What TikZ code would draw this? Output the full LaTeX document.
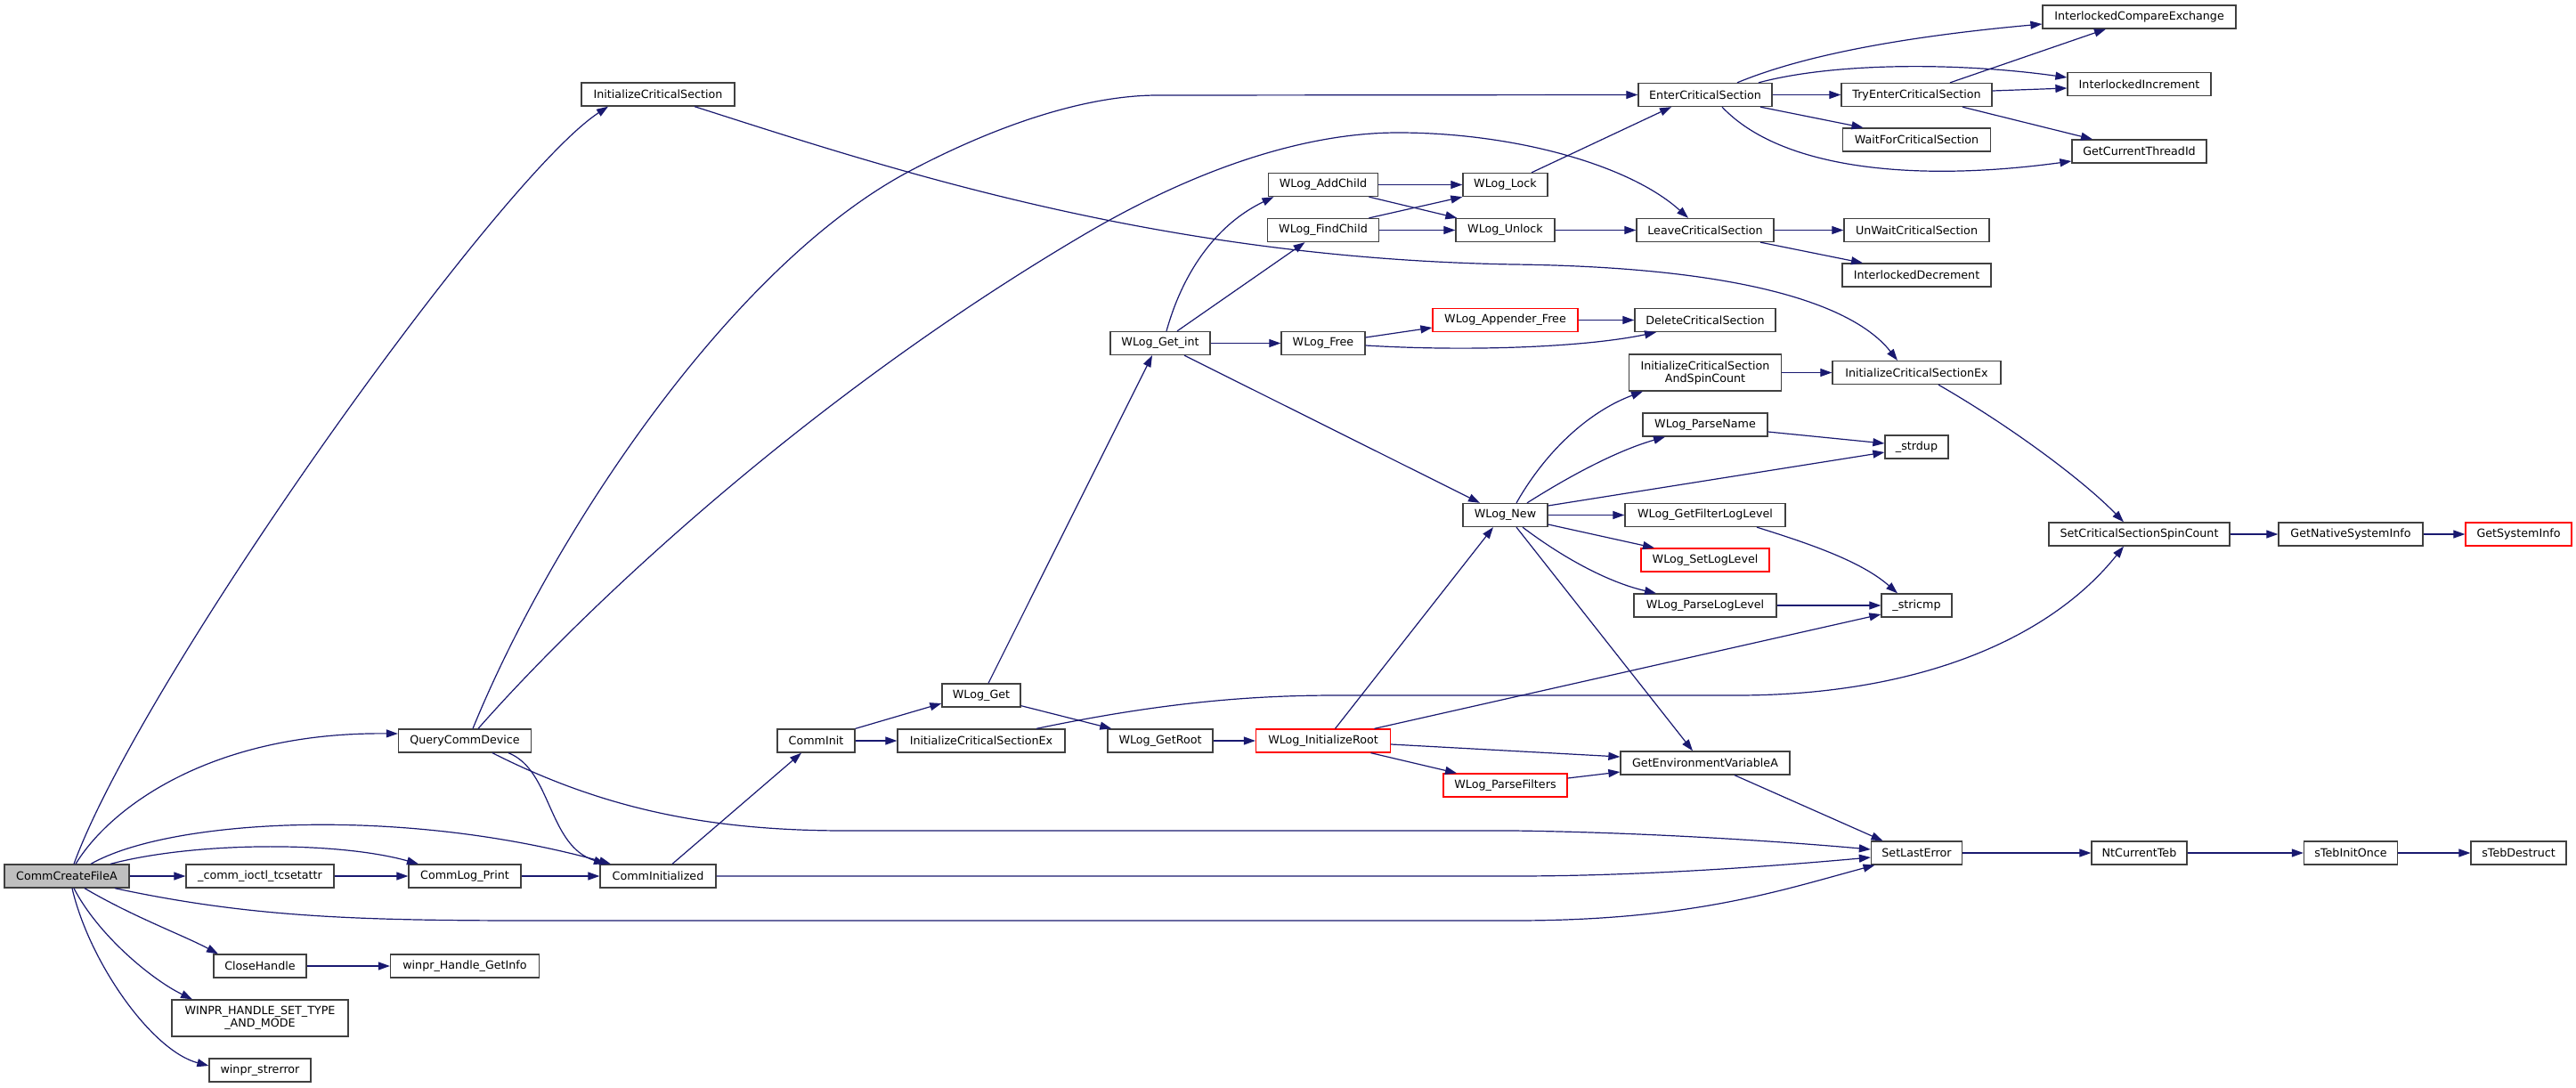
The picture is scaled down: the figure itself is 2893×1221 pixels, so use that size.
\documentclass[tikz,border=0pt]{standalone}
\usepackage{fontspec}
\setmainfont{DejaVu Sans}
\usetikzlibrary{arrows.meta}
\definecolor{edgeblue}{HTML}{191970}
\definecolor{rootgray}{HTML}{BFBFBF}
\begin{document}
\begin{tikzpicture}[x=1pt,y=-1pt,
  fn/.style={draw=black!75, line width=1.3pt, fill=white, inner sep=0pt, minimum height=26pt,
             font=\fontsize{12.7}{14}\selectfont, text=black},
  hl/.style={fill=rootgray},
  redfn/.style={draw=red},
  e/.style={draw=edgeblue, line width=1.2pt, -{Triangle[length=13pt,width=9pt]}}]
\fill[white] (0,0) rectangle (2893,1221);
\useasboundingbox (0,0) rectangle (2893,1221);
% nodes
\node[fn,hl,minimum width=140pt] (CCF) at (75,984) {CommCreateFileA};
\node[fn,minimum width=172pt] (ICS) at (739,106) {InitializeCriticalSection};
\node[fn,minimum width=149pt] (QCD) at (522,832) {QueryCommDevice};
\node[fn,minimum width=166pt] (CIO) at (292,984) {\_comm\_ioctl\_tcsetattr};
\node[fn,minimum width=126pt] (CLP) at (522,984) {CommLog\_Print};
\node[fn,minimum width=130pt] (CIZ) at (739,984) {CommInitialized};
\node[fn,minimum width=104pt] (CH) at (292,1085) {CloseHandle};
\node[fn,minimum width=167pt] (WHGI) at (522,1085) {winpr\_Handle\_GetInfo};
\node[fn,minimum width=198pt,minimum height=41pt,align=center] (WINPR) at (292,1143.5) {WINPR\_HANDLE\_SET\_TYPE\\\_AND\_MODE};
\node[fn,minimum width=114pt] (STRERR) at (292,1202) {winpr\_strerror};
\node[fn,minimum width=87pt] (CINIT) at (916.5,832) {CommInit};
\node[fn,minimum width=188pt] (ICSEXL) at (1102,832) {InitializeCriticalSectionEx};
\node[fn,minimum width=88pt] (WGET) at (1102,781) {WLog\_Get};
\node[fn,minimum width=112pt] (WGETINT) at (1303,385.5) {WLog\_Get\_int};
\node[fn,minimum width=118pt] (WROOT) at (1303,832) {WLog\_GetRoot};
\node[fn,minimum width=123pt] (WADD) at (1486,207.5) {WLog\_AddChild};
\node[fn,minimum width=125pt] (WFIND) at (1486,258.5) {WLog\_FindChild};
\node[fn,minimum width=94pt] (WFREE) at (1486,385.5) {WLog\_Free};
\node[fn,redfn,minimum width=151pt] (WINIT) at (1486,832) {WLog\_InitializeRoot};
\node[fn,minimum width=95pt] (WLOCK) at (1690.5,207.5) {WLog\_Lock};
\node[fn,minimum width=111pt] (WUNLOCK) at (1690.5,258.5) {WLog\_Unlock};
\node[fn,redfn,minimum width=163pt] (WAPP) at (1690.5,359.5) {WLog\_Appender\_Free};
\node[fn,minimum width=95pt] (WNEW) at (1690.5,578.5) {WLog\_New};
\node[fn,redfn,minimum width=139pt] (WPF) at (1690.5,882) {WLog\_ParseFilters};
\node[fn,minimum width=150pt] (ENTER) at (1915,106.5) {EnterCriticalSection};
\node[fn,minimum width=154pt] (LEAVE) at (1915,258.5) {LeaveCriticalSection};
\node[fn,minimum width=158pt] (DCS) at (1915,359.5) {DeleteCriticalSection};
\node[fn,minimum width=171pt,minimum height=41pt,align=center] (ICSASC) at (1915,418.5) {InitializeCriticalSection\\AndSpinCount};
\node[fn,minimum width=140pt] (WPN) at (1915,477) {WLog\_ParseName};
\node[fn,minimum width=180pt] (WGFLL) at (1915,578.5) {WLog\_GetFilterLogLevel};
\node[fn,redfn,minimum width=144pt] (WSLL) at (1915,629) {WLog\_SetLogLevel};
\node[fn,minimum width=160pt] (WPLL) at (1915,680) {WLog\_ParseLogLevel};
\node[fn,minimum width=190pt] (GEVA) at (1915,857) {GetEnvironmentVariableA};
\node[fn,minimum width=169pt] (TRY) at (2152.5,106.5) {TryEnterCriticalSection};
\node[fn,minimum width=166pt] (WAIT) at (2152.5,157) {WaitForCriticalSection};
\node[fn,minimum width=163pt] (UNWAIT) at (2152.5,258.5) {UnWaitCriticalSection};
\node[fn,minimum width=167pt] (IDEC) at (2152.5,309) {InterlockedDecrement};
\node[fn,minimum width=189pt] (ICSEXR) at (2152.5,418.5) {InitializeCriticalSectionEx};
\node[fn,minimum width=71pt] (STRDUP) at (2152.5,502) {\_strdup};
\node[fn,minimum width=79pt] (STRICMP) at (2152.5,680) {\_stricmp};
\node[fn,minimum width=102pt] (SLE) at (2152.5,958) {SetLastError};
\node[fn,minimum width=217pt] (ICE) at (2402.5,19) {InterlockedCompareExchange};
\node[fn,minimum width=161pt] (IINC) at (2402.5,94.5) {InterlockedIncrement};
\node[fn,minimum width=151pt] (GCTI) at (2402.5,170) {GetCurrentThreadId};
\node[fn,minimum width=203pt] (SCSSC) at (2402.5,600) {SetCriticalSectionSpinCount};
\node[fn,minimum width=107pt] (NTCT) at (2402.5,958) {NtCurrentTeb};
\node[fn,minimum width=162pt] (GNSI) at (2640,600) {GetNativeSystemInfo};
\node[fn,minimum width=105pt] (STIO) at (2640,958) {sTebInitOnce};
\node[fn,redfn,minimum width=119pt] (GSI) at (2828.5,600) {GetSystemInfo};
\node[fn,minimum width=107pt] (STD) at (2828.5,958) {sTebDestruct};
% edges from CommCreateFileA
\draw[e] ([xshift=8pt]CCF.north) .. controls (160,760) and (560,200) .. ([xshift=-56pt]ICS.south);
\draw[e] ([xshift=10pt]CCF.north) .. controls (125,905) and (240,822) .. ([yshift=8pt]QCD.west);
\draw[e] ([xshift=27pt]CCF.north) .. controls (190,920) and (450,905) .. ([xshift=-53pt]CIZ.north);
\draw[e] ([xshift=49pt]CCF.north) .. controls (220,945) and (380,945) .. ([xshift=-52pt]CLP.north);
\draw[e] (CCF.east) -- (CIO.west);
\draw[e] ([xshift=54pt]CCF.south) .. controls (280,1030) and (400,1034) .. (600,1034) -- (1700,1034) .. controls (1900,1034) and (2000,1000) .. ([xshift=-47pt]SLE.south);
\draw[e] ([xshift=20pt]CCF.south) .. controls (150,1030) and (205,1050) .. ([xshift=-47pt]CH.north);
\draw[e] ([xshift=8pt]CCF.south) .. controls (110,1050) and (170,1100) .. ([xshift=-76pt]WINPR.north);
\draw[e] ([xshift=6pt]CCF.south) .. controls (100,1080) and (170,1180) .. ([yshift=5pt]STRERR.west);
\draw[e] (CIO.east) -- (CLP.west);
\draw[e] (CLP.east) -- (CIZ.west);
\draw[e] (CH.east) -- (WHGI.west);
% QueryCommDevice
\draw[e] ([xshift=9pt]QCD.north) .. controls (620,600) and (820,300) .. (1020,193) .. controls (1120,140) and (1220,107) .. (1300,107) -- (ENTER.west);
\draw[e] ([xshift=15pt]QCD.north) .. controls (650,690) and (900,450) .. (1220,262) .. controls (1350,186) and (1470,149) .. (1570,149) .. controls (1700,149) and (1830,185) .. ([xshift=-19pt]LEAVE.north);
\draw[e] ([xshift=49pt]QCD.south) .. controls (620,865) and (615,950) .. ([xshift=-59pt]CIZ.north);
\draw[e] ([xshift=31pt]QCD.south) .. controls (680,910) and (800,933) .. (950,933) -- (1700,933) .. controls (1850,935) and (2000,945) .. ([yshift=4pt]SLE.west);
% CommInitialized, CommInit
\draw[e] (CIZ.east) -- (1700,984) .. controls (1850,984) and (2000,972) .. ([yshift=-5pt]SLE.west);
\draw[e] ([xshift=16pt]CIZ.north) -- ([xshift=-16.5pt]CINIT.south);
\draw[e] (CINIT.east) -- (ICSEXL.west);
\draw[e] (CINIT.north east) -- ([yshift=-9pt]WGET.west);
\draw[e] ([xshift=62pt]ICSEXL.north) .. controls (1300,790) and (1400,781) .. (1500,781) -- (1950,781) .. controls (2150,781) and (2300,720) .. ([xshift=-17.5pt]SCSSC.south);
% WLog_Get, root
\draw[e] ([xshift=8pt]WGET.north) -- ([xshift=-9pt]WGETINT.south);
\draw[e] ([yshift=2pt]WGET.south east) -- ([xshift=5pt]WROOT.north west);
\draw[e] (WROOT.east) -- (WINIT.west);
\draw[e] ([xshift=13.5pt]WINIT.north) -- ([xshift=-13.5pt]WNEW.south);
\draw[e] ([xshift=57.5pt]WINIT.north) -- ([yshift=-10pt]STRICMP.west);
\draw[e] ([yshift=-4pt]WINIT.east) -- ([yshift=7pt]GEVA.west);
\draw[e] ([xshift=53.5pt]WINIT.south) -- ([xshift=-54.5pt]WPF.north);
\draw[e] ([yshift=8pt]WPF.east) -- ([yshift=-10pt]GEVA.west);
\draw[e] ([xshift=33pt]GEVA.south) -- ([xshift=-38pt]SLE.north);
% WLog_Get_int
\draw[e] ([xshift=7pt]WGETINT.north) .. controls (1330,300) and (1370,250) .. ([xshift=-55.5pt]WADD.south);
\draw[e] ([xshift=19pt]WGETINT.north) -- ([xshift=-20.5pt]WFIND.south);
\draw[e] (WGETINT.east) -- (WFREE.west);
\draw[e] ([xshift=27pt]WGETINT.south) -- ([xshift=-28.5pt]WNEW.north);
\draw[e] (WADD.east) -- (WLOCK.west);
\draw[e] ([xshift=51.5pt]WADD.south) -- ([xshift=2pt]WUNLOCK.north west);
\draw[e] ([xshift=51.5pt]WFIND.north) -- (WLOCK.south west);
\draw[e] (WFIND.east) -- (WUNLOCK.west);
\draw[e] ([xshift=29.5pt]WLOCK.north) -- ([xshift=-38pt]ENTER.south);
\draw[e] (WUNLOCK.east) -- (LEAVE.west);
\draw[e] ([yshift=6.5pt]WFREE.east) -- ([yshift=-8.5pt]WAPP.west);
\draw[e] ([yshift=-2.5pt]WFREE.east) .. controls (1650,395) and (1780,390) .. ([xshift=-55pt]DCS.south);
\draw[e] (WAPP.east) -- (DCS.west);
% critical sections
\draw[e] ([xshift=36pt]ENTER.north) .. controls (2030,60) and (2150,40) .. ([yshift=-8pt]ICE.west);
\draw[e] ([xshift=60pt]ENTER.north) .. controls (2060,70) and (2200,70) .. ([yshift=7.5pt]IINC.west);
\draw[e] (ENTER.east) -- (TRY.west);
\draw[e] ([xshift=62pt]ENTER.south) -- ([xshift=-60pt]WAIT.north);
\draw[e] ([xshift=19pt]ENTER.south) .. controls (2000,190) and (2150,205) .. ([yshift=-11pt]GCTI.west);
\draw[e] ([xshift=37.5pt]TRY.north) -- ([xshift=-37.5pt]ICE.south);
\draw[e] ([yshift=4.5pt]TRY.east) -- ([yshift=-4.5pt]IINC.west);
\draw[e] ([xshift=51.5pt]TRY.south) -- ([xshift=-52.5pt]GCTI.north);
\draw[e] (LEAVE.east) -- (UNWAIT.west);
\draw[e] ([xshift=62pt]LEAVE.south) -- ([xshift=-60.5pt]IDEC.north);
% WLog_New
\draw[e] ([xshift=12.5pt]WNEW.north) .. controls (1740,500) and (1790,460) .. ([xshift=-70pt]ICSASC.south);
\draw[e] ([xshift=24.5pt]WNEW.north) .. controls (1770,530) and (1820,505) .. ([xshift=-45pt]WPN.south);
\draw[e] ([yshift=10.5pt]WNEW.east) -- ([yshift=-6pt]STRDUP.west);
\draw[e] (WNEW.east) -- (WGFLL.west);
\draw[e] ([yshift=-10.5pt]WNEW.east) -- ([xshift=-57pt]WSLL.north);
\draw[e] ([xshift=19.5pt]WNEW.south) .. controls (1760,630) and (1810,655) .. ([xshift=-55pt]WPLL.north);
\draw[e] ([xshift=12.5pt]WNEW.south) -- ([xshift=-14pt]GEVA.north);
\draw[e] ([yshift=-8pt]WPN.east) -- ([yshift=4pt]STRDUP.west);
\draw[e] ([xshift=58pt]WGFLL.south) .. controls (2030,610) and (2090,630) .. ([xshift=-21.5pt]STRICMP.north);
\draw[e] (WPLL.east) -- (STRICMP.west);
\draw[e] (ICSASC.east) -- (ICSEXR.west);
\draw[e] ([xshift=24.5pt]ICSEXR.south) .. controls (2260,480) and (2340,540) .. ([xshift=-17.5pt]SCSSC.north);
\draw[e] ([xshift=41pt]ICS.south) .. controls (1000,190) and (1300,290) .. (1700,297) .. controls (1950,300) and (2080,340) .. ([xshift=-21.5pt]ICSEXR.north);
\draw[e] (SCSSC.east) -- (GNSI.west);
\draw[e] (GNSI.east) -- (GSI.west);
\draw[e] (SLE.east) -- (NTCT.west);
\draw[e] (NTCT.east) -- (STIO.west);
\draw[e] (STIO.east) -- (STD.west);
\end{tikzpicture}
\end{document}
